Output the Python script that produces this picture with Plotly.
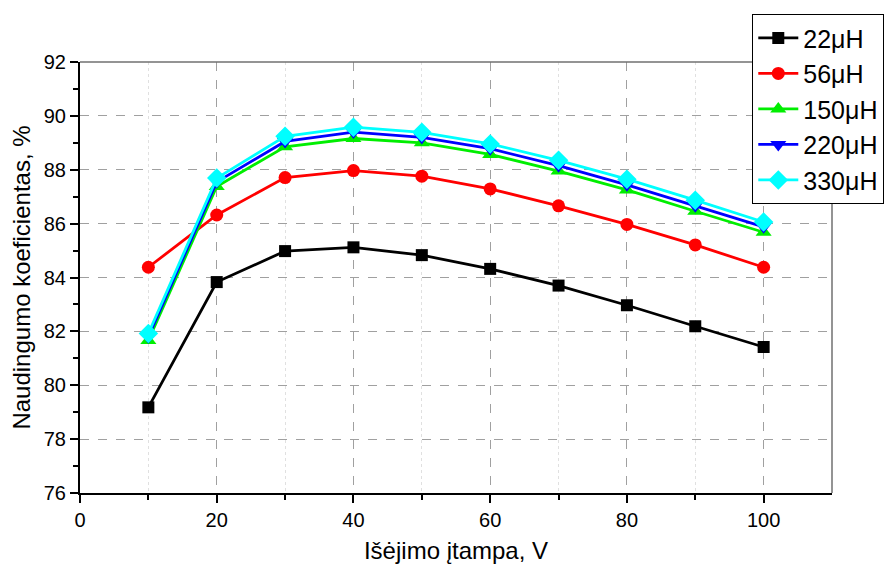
import plotly.graph_objects as go

voltage = [10, 20, 30, 40, 50, 60, 70, 80, 90, 100]
eff_22uH = [79.18, 83.83, 84.98, 85.12, 84.83, 84.32, 83.70, 82.97, 82.19, 81.42]
eff_56uH = [84.38, 86.32, 87.71, 87.97, 87.76, 87.29, 86.66, 85.97, 85.21, 84.38]
eff_150uH = [81.66, 87.38, 88.85, 89.16, 89.00, 88.57, 87.95, 87.25, 86.46, 85.68]
eff_220uH = [81.80, 87.55, 89.05, 89.40, 89.20, 88.78, 88.15, 87.44, 86.66, 85.88]
eff_330uH = [81.92, 87.69, 89.24, 89.58, 89.39, 88.96, 88.35, 87.65, 86.87, 86.06]

series = [
    ("22\u03bcH", eff_22uH, "#000000", "square", 12),
    ("56\u03bcH", eff_56uH, "#ff0000", "circle", 13),
    ("150\u03bcH", eff_150uH, "#00ee00", "triangle-up", 14),
    ("220\u03bcH", eff_220uH, "#0000ff", "triangle-down", 14),
    ("330\u03bcH", eff_330uH, "#00ffff", "diamond", 15),
]

fig = go.Figure()
for name, vals, color, sym, size in series:
    fig.add_trace(go.Scatter(
        x=voltage, y=vals, name=name, mode="lines+markers",
        line=dict(color=color, width=2.8),
        marker=dict(symbol=sym, size=size, color=color, line=dict(width=0)),
    ))

font = "Liberation Sans, Arial, sans-serif"
fig.update_layout(
    width=896, height=572,
    margin=dict(l=80, r=64, t=62, b=77),
    paper_bgcolor="white", plot_bgcolor="white",
    font=dict(family=font, size=20, color="black"),
    showlegend=True,
    legend=dict(
        x=0.894, y=1.111, xanchor="left", yanchor="top",
        bordercolor="black", borderwidth=1, bgcolor="white",
        font=dict(size=25, family=font),
        tracegroupgap=0, itemwidth=40,
    ),
    xaxis=dict(
        range=[0, 110], tickmode="array", tickvals=[0, 20, 40, 60, 80, 100],
        showline=True, linecolor="black", linewidth=2,
        ticks="outside", ticklen=8, tickwidth=2, tickcolor="black",
        showgrid=True, gridcolor="#a0a0a0", griddash="dash", gridwidth=1,
        minor=dict(tickvals=[10, 30, 50, 70, 90], ticks="outside", ticklen=5,
                   tickwidth=2, tickcolor="black", showgrid=True,
                   gridcolor="#e0e0e0", griddash="dot", gridwidth=1),
        zeroline=False,
        title=dict(text="Išėjimo įtampa, V", font=dict(size=24), standoff=12),
        tickfont=dict(size=20),
    ),
    yaxis=dict(
        range=[76, 92], tickmode="array", tickvals=[76, 78, 80, 82, 84, 86, 88, 90, 92],
        showline=True, linecolor="black", linewidth=2,
        ticks="outside", ticklen=8, tickwidth=2, tickcolor="black",
        showgrid=True, gridcolor="#a0a0a0", griddash="dash", gridwidth=1,
        minor=dict(tickvals=[77, 79, 81, 83, 85, 87, 89, 91], ticks="outside", ticklen=5,
                   tickwidth=2, tickcolor="black", showgrid=False),
        zeroline=False,
        title=dict(text="Naudingumo koeficientas, %", font=dict(size=24), standoff=6),
        tickfont=dict(size=20),
    ),
)

# top and right frame lines (gray)
fig.add_shape(type="line", xref="paper", yref="paper", x0=0, x1=1, y0=1, y1=1,
              line=dict(color="#707070", width=1.5))
fig.add_shape(type="line", xref="paper", yref="paper", x0=1, x1=1, y0=0, y1=1,
              line=dict(color="#707070", width=1.5))

fig.write_html("out.html")
